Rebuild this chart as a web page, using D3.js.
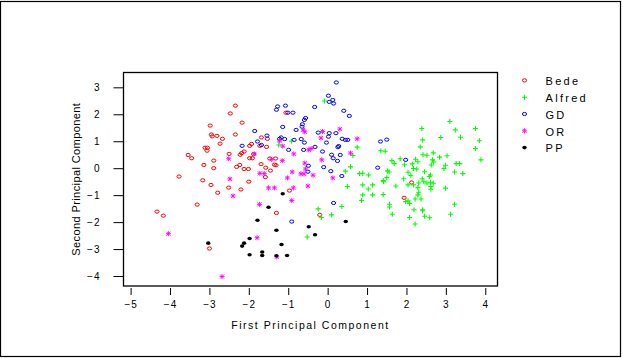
<!DOCTYPE html>
<html><head><meta charset="utf-8">
<script src="https://cdn.jsdelivr.net/npm/d3@7"></script>
<style>
body{margin:0;background:#fff;}
svg text{font-family:"Liberation Sans",Arial,sans-serif;fill:#000;}
</style></head>
<body><svg id="c" width="623" height="358"></svg>
<script>
const groups = ["Bede","Alfred","GD","OR","PP"];
const xTicks = [-5,-4,-3,-2,-1,0,1,2,3,4];
const yTicks = [-4,-3,-2,-1,0,1,2,3];
const xLabel = "First Principal Component";
const yLabel = "Second Principal Component";

const bedeX = [-2.34,-2.47,-2.98,-2.17,-2.95,-2.93,-2.81,-2.34,-2.67,-2.73,-3.11,-3.05,-3.06,-2.50,-3.54,-3.45,-2.89,-3.14,-2.89,-2.22,-2.18,-2.12,-1.98,-1.98,-2.31,-2.23,-2.12,-2.01,-3.77,-3.17,-2.96,-2.79,-2.51,-2.20,-2.00,-3.31,-4.33,-4.17,-3.00,-1.06,-1.68,-1.53,-1.93,-1.72,-1.55,-1.88,-1.91,-1.47,-1.32,-1.69,-1.35,-1.31,-1.57,-1.45,-1.58,-0.97,-1.30,-0.20,2.13,1.94];
const bedeY = [2.32,2.03,1.58,1.69,1.25,1.18,1.20,1.25,1.09,0.91,0.76,0.76,0.65,0.53,0.49,0.37,0.28,0.12,0.00,0.50,0.56,0.62,0.83,0.37,0.05,0.12,-0.03,-0.03,-0.31,-0.45,-0.62,-0.91,-0.72,-0.79,-0.50,-1.35,-1.61,-1.76,-2.98,2.06,1.14,1.09,0.90,0.83,0.79,0.52,0.37,0.36,0.36,0.15,0.13,0.11,0.02,-0.09,-0.33,-0.83,-1.66,-1.73,-0.53,-1.10];

const alfredX = [-0.08,-0.92,-1.24,0.75,0.64,0.58,0.45,0.81,0.89,1.04,0.50,0.89,1.14,1.03,1.14,0.89,0.86,0.36,-0.24,-0.16,0.10,-0.52,3.10,2.39,3.24,3.75,2.87,2.41,3.37,3.85,2.35,3.75,1.35,1.46,2.68,2.42,2.52,2.84,3.03,3.89,1.84,1.63,1.69,2.23,2.29,2.15,2.66,2.69,1.95,2.63,2.99,3.26,3.35,2.18,2.26,2.95,1.52,1.56,2.04,2.46,2.11,3.22,3.43,2.61,2.58,1.50,1.93,2.40,1.41,1.42,1.73,1.41,2.04,2.18,2.31,2.44,2.52,2.61,2.68,2.29,2.62,2.62,2.99,2.31,2.29,1.98,2.04,2.08,2.22,2.37,1.57,1.57,3.22,2.19,2.41,2.41,1.64,3.12,2.08,2.46,2.59,2.22];
const alfredY = [2.49,1.00,0.86,0.78,0.47,0.05,-0.11,-0.20,-0.19,-0.25,-0.68,-0.62,-0.62,-0.77,-0.99,-0.99,-1.20,-1.42,-1.51,-1.83,-1.73,-2.55,1.73,1.47,1.42,1.47,1.14,1.05,1.15,1.02,0.79,0.73,0.65,0.63,0.57,0.50,0.48,0.41,0.46,0.31,0.35,0.28,0.17,0.33,0.24,0.16,0.31,0.23,0.13,0.12,0.11,0.17,0.17,-0.01,-0.03,-0.01,-0.10,-0.14,-0.15,-0.13,-0.27,-0.14,-0.20,-0.25,-0.31,-0.35,-0.39,-0.39,-0.46,-0.50,-0.66,-0.98,-0.62,-0.62,-0.55,-0.50,-0.55,-0.52,-0.56,-0.72,-0.68,-0.78,-0.74,-0.89,-0.99,-1.24,-1.21,-1.31,-1.14,-1.14,-1.34,-1.44,-1.34,-1.54,-1.54,-1.58,-1.71,-1.71,-1.83,-1.78,-1.84,-2.07];

const gdX = [-2.17,0.22,0.02,0.13,0.04,0.15,-1.27,-1.30,-1.07,-0.33,0.41,0.55,-1.01,-0.88,-0.56,-0.59,-0.64,-0.65,-1.14,-0.80,-1.85,-0.24,0.04,0.02,0.21,-1.54,0.37,0.45,0.51,-1.18,-1.22,-1.09,-0.85,-0.67,-0.59,-1.78,-1.68,-0.03,0.28,0.26,-0.32,-0.99,-0.61,-0.13,0.10,0.14,0.32,0.25,-0.49,-0.10,-0.50,0.08,0.36,0.15,-0.91,1.34,1.50,1.98,1.27];
const gdY = [0.83,3.18,2.69,2.53,2.46,2.40,2.29,2.17,2.32,2.27,2.13,1.94,2.06,2.06,1.86,1.79,1.63,1.54,1.53,1.42,1.38,1.32,1.30,1.17,1.30,1.21,1.09,1.05,1.05,1.14,1.09,1.08,1.05,1.08,0.95,0.99,0.86,0.95,0.82,0.78,0.79,0.68,0.68,0.62,0.50,0.37,0.49,0.27,0.09,0.04,-0.13,-0.11,-0.29,-1.29,-1.98,0.99,1.06,0.31,0.02];

const orX = [-2.51,-2.48,-2.40,-4.04,-2.68,-0.62,-0.58,-0.13,0.31,-0.17,0.75,-1.22,-1.14,-0.42,-0.48,-0.86,-1.86,-1.42,-1.15,-0.15,0.58,-0.58,-0.56,-0.68,-0.60,-0.37,-0.90,-1.72,-1.61,-1.02,0.13,-1.50,-1.35,-0.87,-0.50,-0.91,-1.73,-1.79,-1.29];
const orY = [0.35,-0.40,-1.03,-2.43,-4.02,1.42,1.35,1.36,1.45,1.12,1.09,1.01,0.82,0.73,0.68,0.53,0.53,0.33,0.28,0.31,0.56,0.19,-0.03,-0.21,-0.21,-0.26,-0.14,-0.19,-0.20,-0.36,-0.36,-0.73,-0.73,-0.73,-0.66,-1.20,-1.34,-2.58,-3.29];

const ppX = [-3.03,-2.17,-2.12,-1.98,-1.98,-1.14,-1.50,-1.78,-0.48,0.46,-1.30,-0.32,-1.17,-1.66,-1.66,-1.30,-1.03];
const ppY = [-2.78,-2.89,-2.78,-2.61,-3.21,-0.95,-1.45,-1.93,-2.17,-1.98,-2.30,-2.47,-2.83,-3.11,-3.24,-3.25,-3.24];

const series = [
  {name:"Bede", xs:bedeX, ys:bedeY, color:"#ff0000", shape:"circle"},
  {name:"Alfred", xs:alfredX, ys:alfredY, color:"#00ff00", shape:"plus"},
  {name:"GD", xs:gdX, ys:gdY, color:"#0000ff", shape:"circle"},
  {name:"OR", xs:orX, ys:orY, color:"#ff00ff", shape:"star"},
  {name:"PP", xs:ppX, ys:ppY, color:"#000000", shape:"dot"}
];

const svg = d3.select("#c");
svg.append("rect").attr("x",0.5).attr("y",1.5).attr("width",620).attr("height",355)
  .attr("fill","#fff").attr("stroke","#000").attr("stroke-width",1.2);

const box = {l:123.5, r:497.5, t:72.5, b:286};
const x = d3.scaleLinear().domain([-5.18,4.31]).range([box.l, box.r]);
const y = d3.scaleLinear().domain([-4.37,3.55]).range([box.b, box.t]);

// x axis (detached below box)
const xAxis = d3.axisBottom(x).tickValues(xTicks).tickSize(7).tickPadding(4).tickFormat(d3.format("d"));
const gx = svg.append("g").attr("transform",`translate(0,${box.b+2})`).call(xAxis);
gx.select(".domain").remove();
gx.selectAll("line").attr("stroke","#000");
gx.selectAll("text").attr("font-size",10).style("letter-spacing","1px").attr("dy","0.9em");

const yAxis = d3.axisLeft(y).tickValues(yTicks).tickSize(10).tickPadding(13).tickFormat(d3.format("d"));
const gy = svg.append("g").attr("transform",`translate(${box.l},0)`).call(yAxis);
gy.select(".domain").remove();
gy.selectAll("line").attr("stroke","#000");
gy.selectAll("text").attr("font-size",10).style("letter-spacing","1px");

svg.append("rect").attr("x",box.l).attr("y",box.t).attr("width",box.r-box.l).attr("height",box.b-box.t)
  .attr("fill","none").attr("stroke","#000").attr("stroke-width",1.3);

svg.append("text").attr("x",(box.l+box.r)/2).attr("y",329).attr("text-anchor","middle")
  .attr("font-size",10.5).style("letter-spacing","1.5px").text(xLabel);
svg.append("text").attr("transform",`translate(80,${(box.t+box.b)/2}) rotate(-90)`).attr("text-anchor","middle")
  .attr("font-size",11).style("letter-spacing","0.4px").text(yLabel);

function drawSym(g, shape, color){
  if(shape==="circle"){
    g.append("ellipse").attr("rx",2.1).attr("ry",1.6).attr("fill","none").attr("stroke",color).attr("stroke-width",1);
  } else if(shape==="dot"){
    g.append("ellipse").attr("rx",2.2).attr("ry",1.8).attr("fill",color);
  } else if(shape==="plus"){
    g.append("path").attr("d","M-2.5,0H2.5M0,-2.5V2.5").attr("stroke",color).attr("stroke-width",1.1);
  } else {
    g.append("path").attr("d","M-2.5,0H2.5M0,-2.5V2.5M-2,-2L2,2M-2,2L2,-2").attr("stroke",color).attr("stroke-width",0.9);
  }
}

const plot = svg.append("g");
series.forEach(s=>{
  const pts = s.xs.map((v,i)=>[v,s.ys[i]]);
  plot.selectAll(null).data(pts).enter().append("g")
    .attr("transform",d=>`translate(${x(d[0])},${y(d[1])})`)
    .each(function(){ drawSym(d3.select(this), s.shape, s.color); });
});

// legend
const legY = d3.scaleBand().domain(groups).range([73,157]);
const leg = svg.append("g");
series.forEach(s=>{
  const cy = legY(s.name)+legY.bandwidth()/2;
  const g = leg.append("g").attr("transform",`translate(524.5,${cy-1})`);
  drawSym(g, s.shape, s.color);
  leg.append("text").attr("x",545.5).attr("y",cy).attr("dy","0.35em").attr("font-size",11)
    .style("letter-spacing","2.3px").text(s.name);
});
</script></body></html>
